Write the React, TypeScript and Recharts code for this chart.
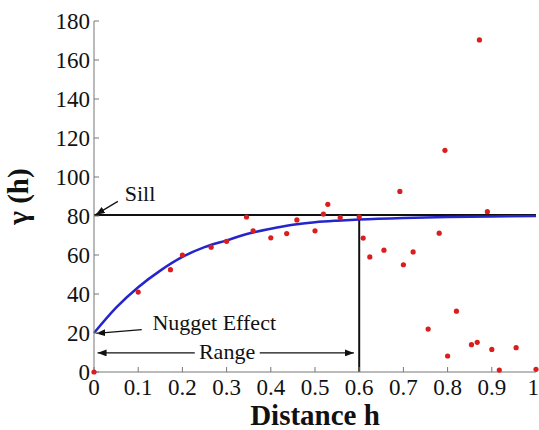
import {
  ComposedChart,
  Line,
  ReferenceDot,
  ReferenceLine,
  Scatter,
  XAxis,
  YAxis,
} from "recharts";

// семивариограмма: экспериментальные точки (h, γ)
const sampleH = [
  0, 0.1, 0.173, 0.2, 0.265, 0.3, 0.345, 0.36, 0.4, 0.436, 0.459, 0.5, 0.519,
  0.529, 0.557, 0.6, 0.609, 0.624, 0.656, 0.692, 0.7, 0.722, 0.756, 0.781,
  0.794, 0.8, 0.82, 0.854, 0.867, 0.872, 0.89, 0.9, 0.917, 0.955, 1.0,
];
const sampleG = [
  0, 41, 52.5, 60, 64, 67, 79.5, 72.4, 68.8, 71, 78, 72.4, 81, 86, 79.2, 79.6,
  68.7, 59, 62.5, 92.6, 55, 61.6, 22, 71.2, 113.7, 8.2, 31.2, 14, 15.2, 170.3,
  82.2, 11.6, 1, 12.5, 1.4,
];

// подобранная модель
const modelH = [
  0, 0.05, 0.1, 0.15, 0.2, 0.25, 0.3, 0.35, 0.4, 0.45, 0.5, 0.55, 0.6, 0.7,
  0.8, 0.9, 1.0,
];
const modelG = [
  20, 33, 43.5, 52, 59, 64, 67.5, 71, 73.5, 75.5, 76.8, 77.6, 78.2, 79, 79.5,
  79.8, 80,
];

const xTicks = [0, 0.1, 0.2, 0.3, 0.4, 0.5, 0.6, 0.7, 0.8, 0.9, 1];
const yTicks = [0, 20, 40, 60, 80, 100, 120, 140, 160, 180];

const points = sampleH.map((h, i) => ({ h, g: sampleG[i] }));
const model = modelH.map((h, i) => ({ h, g: modelG[i] }));

const SILL = 80.5;

const arrowLine = ({ x1, y1, x2, y2 }: any) => (
  <line
    x1={x1}
    y1={y1}
    x2={x2}
    y2={y2}
    stroke="#111"
    strokeWidth={1.2}
    markerEnd="url(#arrE)"
  />
);

export default function App() {
  return (
    <div style={{ position: "absolute", left: 0, top: 0 }}>
      <svg width={0} height={0} style={{ position: "absolute" }}>
        <defs>
          <marker
            id="arrE"
            markerWidth={9}
            markerHeight={7}
            refX={9}
            refY={3.5}
            orient="auto"
            markerUnits="userSpaceOnUse"
          >
            <path d="M0,0 L9,3.5 L0,7 z" fill="#111" />
          </marker>
        </defs>
      </svg>
      <ComposedChart
        width={539}
        height={430}
        margin={{ top: 21, right: 3, left: 0, bottom: 0 }}
      >
        <XAxis
          type="number"
          dataKey="h"
          domain={[0, 1]}
          ticks={xTicks}
          height={58}
          stroke="#777"
          tickSize={-5}
          tickMargin={12}
          tick={{ fill: "#111", fontSize: 23 }}
          label={{
            value: "Distance h",
            position: "insideBottom",
            offset: 5,
            fontSize: 29,
            fontWeight: "bold",
            fill: "#111",
          }}
        />
        <XAxis
          xAxisId="top"
          orientation="top"
          type="number"
          domain={[0, 1]}
          ticks={xTicks}
          height={0}
          stroke="#777"
          tickSize={-5}
          tickFormatter={() => ""}
        />
        <YAxis
          type="number"
          domain={[0, 180]}
          ticks={yTicks}
          width={94}
          stroke="#777"
          tickSize={-5}
          tickMargin={9}
          tick={{ fill: "#111", fontSize: 23 }}
          label={{
            value: "γ (h)",
            angle: -90,
            position: "insideLeft",
            offset: 18,
            fontSize: 29,
            fontWeight: "bold",
            fill: "#111",
            style: { textAnchor: "middle" },
          }}
        />
        <YAxis
          yAxisId="right"
          orientation="right"
          type="number"
          domain={[0, 180]}
          ticks={yTicks}
          width={0}
          stroke="#777"
          tickSize={-5}
          tickFormatter={() => ""}
        />

        <ReferenceLine y={SILL} stroke="#111" strokeWidth={2} />
        <ReferenceLine
          segment={[
            { x: 0.6, y: 0 },
            { x: 0.6, y: 79 },
          ]}
          stroke="#111"
          strokeWidth={2}
        />

        <Line
          data={model}
          dataKey="g"
          type="monotone"
          stroke="#2525cc"
          strokeWidth={2.5}
          dot={false}
          isAnimationActive={false}
        />
        <Scatter
          data={points}
          dataKey="g"
          fill="#d81e1e"
          isAnimationActive={false}
          shape={(p: any) => (
            <circle cx={p.cx} cy={p.cy} r={2.6} fill="#d81e1e" />
          )}
        />

        {/* подписи: порог, эффект самородков, ранг */}
        <ReferenceLine
          segment={[
            { x: 0.054, y: 87.5 },
            { x: 0.004, y: 80.7 },
          ]}
          shape={arrowLine}
        />
        <ReferenceDot
          x={0.104}
          y={91.6}
          r={0}
          label={{ value: "Sill", position: "center", fontSize: 22, fill: "#111" }}
        />
        <ReferenceLine
          segment={[
            { x: 0.108, y: 21.7 },
            { x: 0.005, y: 19.8 },
          ]}
          shape={arrowLine}
        />
        <ReferenceDot
          x={0.272}
          y={25.6}
          r={0}
          label={{
            value: "Nugget Effect",
            position: "center",
            fontSize: 22,
            fill: "#111",
          }}
        />
        <ReferenceLine
          segment={[
            { x: 0.228, y: 9.8 },
            { x: 0.008, y: 9.8 },
          ]}
          shape={arrowLine}
        />
        <ReferenceLine
          segment={[
            { x: 0.375, y: 9.8 },
            { x: 0.588, y: 9.8 },
          ]}
          shape={arrowLine}
        />
        <ReferenceDot
          x={0.301}
          y={10.5}
          r={0}
          label={{ value: "Range", position: "center", fontSize: 22, fill: "#111" }}
        />
      </ComposedChart>
    </div>
  );
}
